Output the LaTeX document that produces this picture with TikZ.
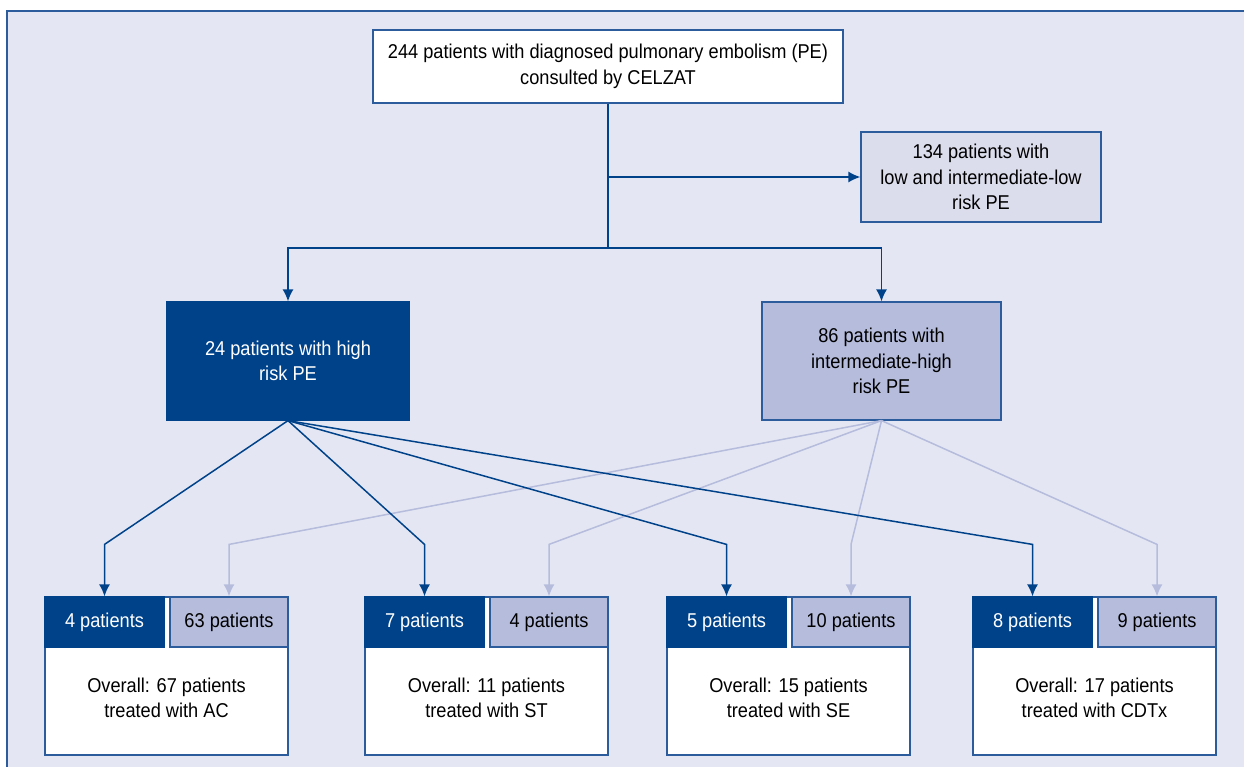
\documentclass[tikz,border=0pt]{standalone}
\usepackage{fontspec}
\setmainfont{Liberation Sans}[FakeStretch=0.91]
\usetikzlibrary{arrows.meta,calc}
\definecolor{pagebg}{HTML}{E4E7F3}
\definecolor{edge}{HTML}{2C5C9C}
\definecolor{darkpe}{HTML}{00428A}
\definecolor{midpe}{HTML}{B5BCDC}
\definecolor{lowpe}{HTML}{DBDCEC}
\tikzset{
	box/.style={draw=edge, line width=1.2pt, align=center, inner sep=0pt},
	link/.style={draw=darkpe, line width=1.5pt, >={Latex[length=12pt,width=11pt]}},
	faint/.style={draw=midpe, line width=1.5pt, >={Latex[length=12pt,width=11pt]}}
}

\begin{document}
\begin{tikzpicture}[x=1pt,y=-1pt,font=\fontsize{20}{25.5}\selectfont]
	\useasboundingbox (0,0) rectangle (1244,766);
	\clip (0,0) rectangle (1244,766);
	\fill[white] (0,0) rectangle (1244,766);
	\filldraw[fill=pagebg, draw=edge, line width=2pt] (7,11) rectangle (1320,830);
	% top of the tree
	\node[box, fill=white, minimum width=470pt, minimum height=73pt] (top) at (608,66.5)
		{244 patients with diagnosed pulmonary embolism (PE)\\consulted by CELZAT};
	\node[box, fill=lowpe, minimum width=240pt, minimum height=90pt] (low) at (981,177)
		{134 patients with\\low and intermediate-low\\risk PE};
	\node[box, draw=darkpe, fill=darkpe, text=white, minimum width=242pt, minimum height=118pt] (high) at (288,361)
		{24 patients with high\\risk PE};
	\node[box, fill=midpe, minimum width=239pt, minimum height=118pt] (ihigh) at (881.5,361)
		{86 patients with\\intermediate-high\\risk PE};
	\coordinate (split) at (608,248);
	\draw[link] (top.south) -- (split);
	\draw[link,->] (top.south |- low.west) -- (low.west);
	\draw[link,->] (split) -| (high.north);
	\draw[link,->] (split) -| (ihigh.north);
	% treatment groups
	\foreach \x/\n/\m/\all/\how [count=\i] in {45/4/63/67/AC, 365/7/4/11/ST, 667/5/10/15/SE, 973/8/9/17/CDTx}{
		\node[box, fill=white, minimum width=243pt, minimum height=158pt] (all\i) at (\x+121.5,676) {};
		\node[box, draw=darkpe, fill=darkpe, text=white, minimum width=119pt, minimum height=50pt] (hi\i) at (\x+59.5,622) {\n\ patients};
		\node[box, fill=midpe, minimum width=118pt, minimum height=50pt] (ih\i) at (\x+184,622) {\m\ patients};
		\node[align=center] at (\x+121.5,698) {Overall: \all\ patients\\treated with \how};
	}
	\foreach \i in {1,...,4}{
		\draw[faint,->] (ihigh.south) -- ([yshift=52pt]ih\i.north) -- (ih\i.north);
	}
	\foreach \i in {1,...,4}{
		\draw[link,->] (high.south) -- ([yshift=52pt]hi\i.north) -- (hi\i.north);
	}
\end{tikzpicture}
\end{document}
